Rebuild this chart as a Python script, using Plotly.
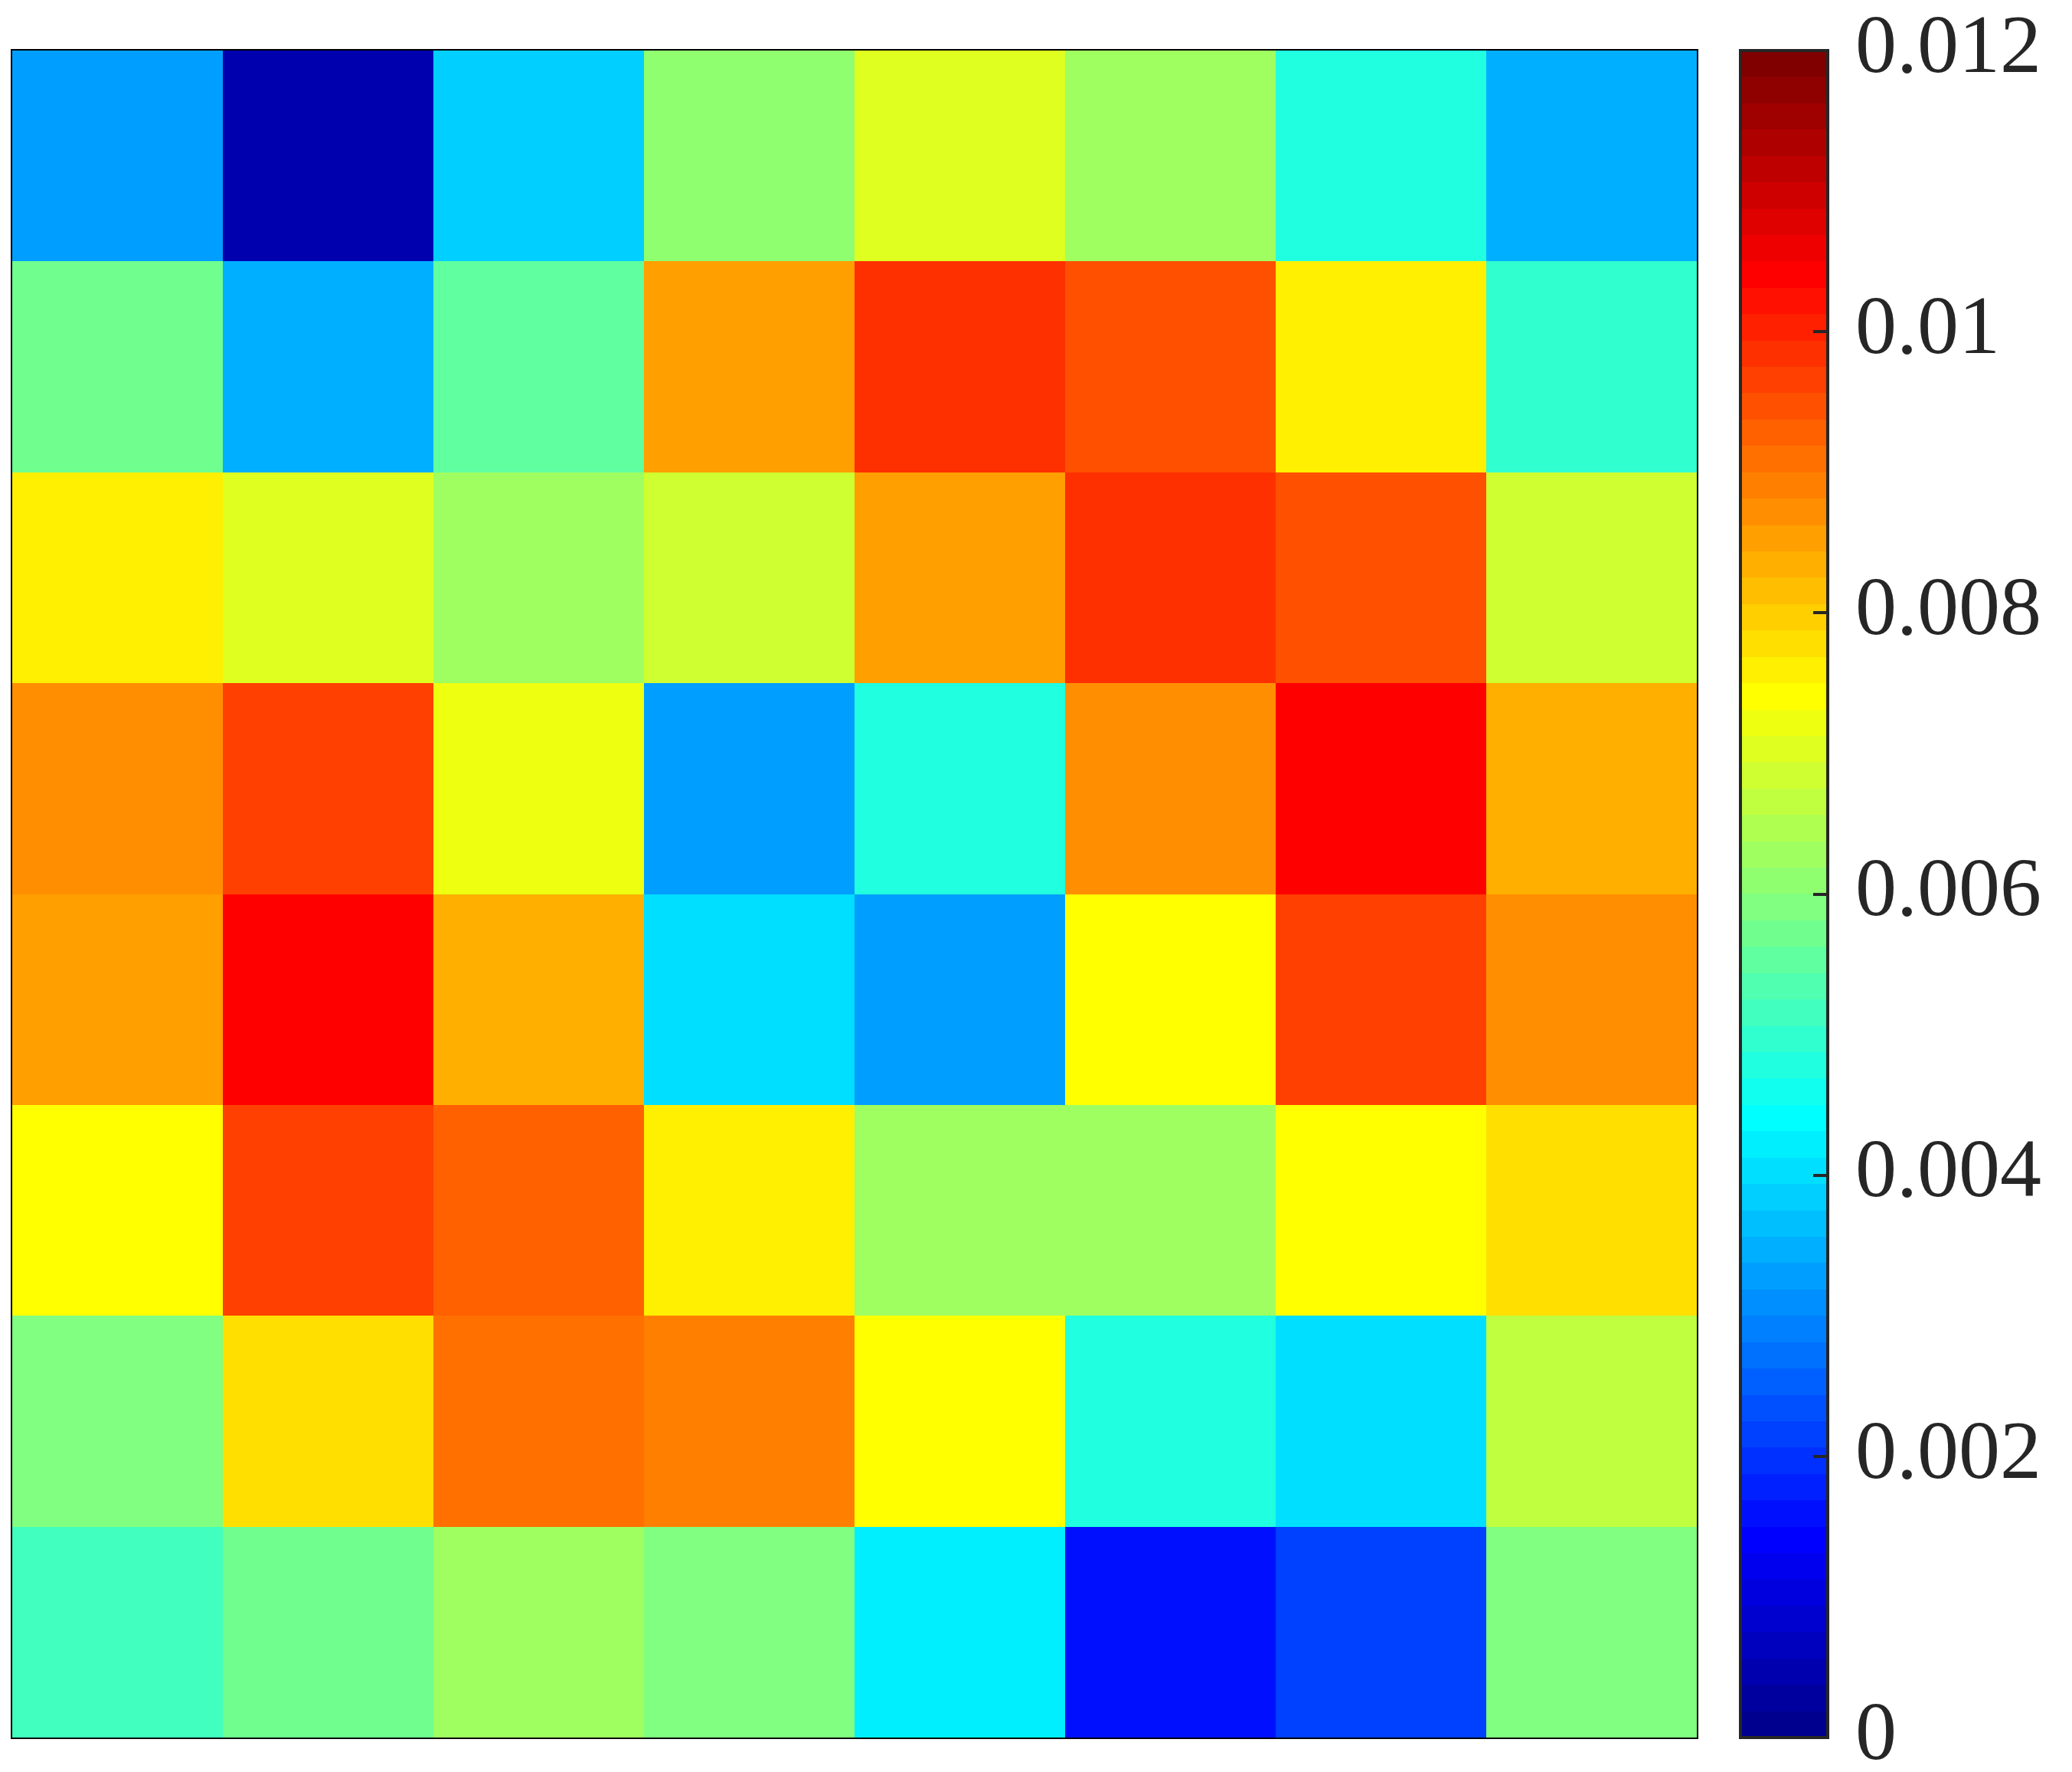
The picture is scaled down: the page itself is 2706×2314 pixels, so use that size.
import plotly.graph_objects as go

# jet(64) colour index (1..64) read for each cell, top row first
row1 = [18, 3, 21, 33, 38, 34, 26, 19]
row2 = [31, 19, 30, 46, 53, 51, 41, 27]
row3 = [41, 38, 34, 37, 46, 53, 51, 37]
row4 = [47, 52, 39, 18, 26, 47, 56, 45]
row5 = [46, 56, 45, 22, 18, 40, 52, 47]
row6 = [40, 52, 50, 41, 34, 34, 40, 42]
row7 = [32, 42, 49, 48, 40, 26, 22, 36]
row8 = [28, 31, 34, 32, 23, 9, 12, 32]

zmin, zmax = 0.0, 0.012
n_levels = 64
tick_vals = [0, 0.002, 0.004, 0.006, 0.008, 0.01, 0.012]
tick_text = ["0", "0.002", "0.004", "0.006", "0.008", "0.01", "0.012"]

rows = [row1, row2, row3, row4, row5, row6, row7, row8]
step = (zmax - zmin) / n_levels
z = [[zmin + (k - 0.5) * step for k in r] for r in rows]


def jet(k):
    # MATLAB jet(64) row k (1-based)
    if k <= 8:
        r, g, b = 0, 0, (k + 8) / 16
    elif k <= 24:
        r, g, b = 0, (k - 8) / 16, 1
    elif k <= 40:
        r, g, b = (k - 24) / 16, 1, 1 - (k - 24) / 16
    elif k <= 56:
        r, g, b = 1, 1 - (k - 40) / 16, 0
    else:
        r, g, b = 1 - (k - 56) / 16, 0, 0
    return "rgb(%d,%d,%d)" % (round(r * 255), round(g * 255), round(b * 255))


colorscale = []
for i in range(n_levels):
    c = jet(i + 1)
    colorscale.append([i / n_levels, c])
    colorscale.append([(i + 1) / n_levels, c])

W, H = 2706, 2314
ml, mt = 16, 66
plot_right, plot_bottom = 2216, 2269
mr = W - plot_right
mb = H - plot_bottom
pw = plot_right - ml

fig = go.Figure(
    go.Heatmap(
        z=z,
        zmin=zmin,
        zmax=zmax,
        colorscale=colorscale,
        colorbar=dict(
            x=(2273 - ml) / pw,
            xanchor="left",
            xref="paper",
            y=0.5,
            yanchor="middle",
            len=1.0,
            lenmode="fraction",
            ypad=0,
            xpad=0,
            thickness=114,
            thicknessmode="pixels",
            outlinewidth=4,
            outlinecolor="#262626",
            ticks="inside",
            ticklen=21,
            tickwidth=4,
            tickcolor="#262626",
            tickvals=tick_vals,
            ticktext=tick_text,
            ticklabeloverflow="allow",
            tickfont=dict(family="Liberation Serif", size=108, color="#262626"),
        ),
        hoverinfo="skip",
    )
)

fig.update_xaxes(
    showticklabels=False, ticks="", showgrid=False, zeroline=False,
    showline=True, mirror=True, linecolor="black", linewidth=2,
)
fig.update_yaxes(
    showticklabels=False, ticks="", showgrid=False, zeroline=False,
    showline=True, mirror=True, linecolor="black", linewidth=2,
    autorange="reversed",
)
fig.update_layout(
    width=W,
    height=H,
    margin=dict(l=ml, r=mr, t=mt, b=mb, pad=0),
    paper_bgcolor="white",
    plot_bgcolor="white",
)

post_js = """
document.body.style.margin='0';
document.body.style.overflow='hidden';
function nudgeCbLabels(){
  var els = document.querySelectorAll('.colorbar .cbaxis text');
  els.forEach(function(el){
    if (el.getAttribute('data-nudged')) return;
    var y = parseFloat(el.getAttribute('y') || '0');
    var x = parseFloat(el.getAttribute('x') || '0');
    el.setAttribute('y', y - 10);
    el.setAttribute('x', x + 12);
    el.setAttribute('data-nudged', '1');
  });
}
nudgeCbLabels();
setTimeout(nudgeCbLabels, 50);
"""

fig.write_html(
    "out.html",
    config={"displayModeBar": False},
    post_script=post_js,
)
